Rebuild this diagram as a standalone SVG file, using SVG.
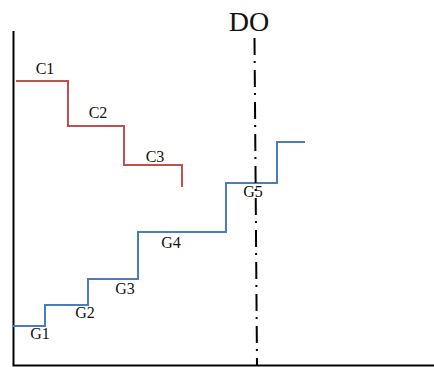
<svg xmlns="http://www.w3.org/2000/svg" width="434" height="367" viewBox="0 0 434 367">
<style>
.t{font-family:"Liberation Serif","Times New Roman",serif;font-size:16px;fill:#111;text-anchor:middle}
.ax{stroke:#000;stroke-width:2;fill:none}
.red{stroke:#C0504D;stroke-width:2;fill:none}
.blue{stroke:#4A7EBB;stroke-width:2;fill:none}
.do{stroke:#000;stroke-width:2;fill:none;stroke-dasharray:17 6 2 7}
</style>
<rect width="434" height="367" fill="#fff"/>
<g id="axes">
<path class="ax" d="M13.5 31 V365.5 H434"/>
</g>
<g id="connectors">
<path id="red-curve" class="red" d="M16 81 H68 V126 H124 V165 H182 V187"/>
<path id="blue-curve" class="blue" d="M13 326 H45 V305 H88 V279 H138 V232 H226 V183 H277 V142 H305"/>
<path id="do-line" class="do" d="M254.5 38 L257 365"/>
</g>
<g id="DO"><text x="249" y="31" class="t" style="font-size:28px">DO</text></g>
<g id="C1"><text x="45" y="74" class="t">C1</text></g>
<g id="C2"><text x="98" y="118" class="t">C2</text></g>
<g id="C3"><text x="155" y="162" class="t">C3</text></g>
<g id="G1"><text x="40" y="339" class="t">G1</text></g>
<g id="G2"><text x="85" y="318" class="t">G2</text></g>
<g id="G3"><text x="125" y="294" class="t">G3</text></g>
<g id="G4"><text x="171" y="248" class="t">G4</text></g>
<g id="G5"><text x="253" y="197" class="t">G5</text></g>
</svg>
